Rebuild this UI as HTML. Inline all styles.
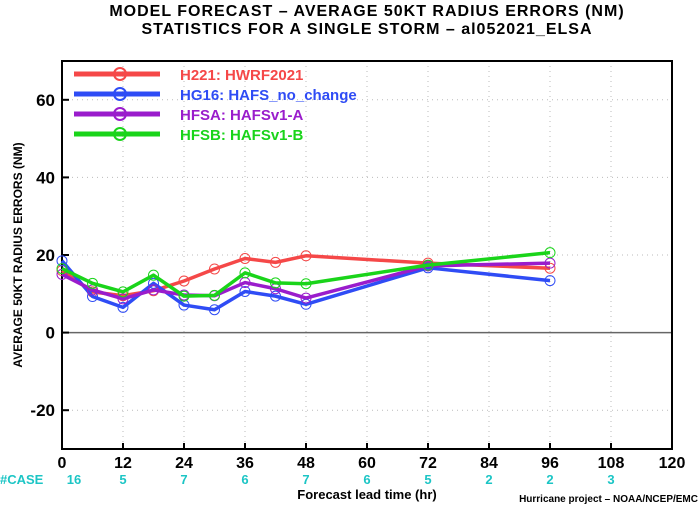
<!DOCTYPE html>
<html><head><meta charset="utf-8"><style>
body{margin:0;background:#fff;font-family:"Liberation Sans",sans-serif}
svg text{font-family:"Liberation Sans",sans-serif}
</style></head><body>
<svg id="chart" width="700" height="506" viewBox="0 0 700 506" xmlns="http://www.w3.org/2000/svg">
<text x="367" y="16" text-anchor="middle" font-size="16" font-weight="bold" letter-spacing="1">MODEL FORECAST – AVERAGE 50KT RADIUS ERRORS (NM)</text>
<text x="367" y="34" text-anchor="middle" font-size="16" font-weight="bold" letter-spacing="1">STATISTICS FOR A SINGLE STORM – al052021_ELSA</text>
<g id="grid"></g><g id="axes"></g><g id="series"></g><g id="legend"></g>
<text transform="translate(22,255) rotate(-90)" text-anchor="middle" font-size="12" font-weight="bold">AVERAGE 50KT RADIUS ERRORS (NM)</text>
<text x="367" y="499" text-anchor="middle" font-size="13" font-weight="bold">Forecast lead time (hr)</text>
<text x="698" y="502" text-anchor="end" font-size="10" font-weight="bold">Hurricane project – NOAA/NCEP/EMC</text>
<text x="0" y="484" font-size="13" font-weight="bold" fill="#1cc5c5">#CASE</text>
</svg>
<script>
const hours=[0,6,12,18,24,30,36,42,48,72,96];
const h221=[16,10.5,9.5,10.8,13.3,16.4,19.1,18.1,19.8,17.9,16.6];
const hg16=[18.5,9.3,6.5,12.7,7.1,5.9,10.6,9.4,7.3,16.7,13.4];
const hfsa=[15,11,8.7,11,9.7,9.5,12.9,11.3,8.9,17.2,17.9];
const hfsb=[16.5,12.7,10.5,14.8,9.4,9.6,15.4,12.8,12.6,17.4,20.6];
const seriesNames=["H221: HWRF2021","HG16: HAFS_no_change","HFSA: HAFSv1-A","HFSB: HAFSv1-B"];
const xTicks=[0,12,24,36,48,60,72,84,96,108,120];
const yTicks=[-20,0,20,40,60];
const caseHours=[0,12,24,36,48,60,72,84,96,108];
const caseCounts=[16,5,7,6,7,6,5,2,2,3];
const NS="http://www.w3.org/2000/svg";
const X0=62,X1=672,Y0=449,Y1=61,xmin=0,xmax=120,ymin=-30,ymax=70;
const xs=v=>X0+(v-xmin)/(xmax-xmin)*(X1-X0);
const ys=v=>Y0-(v-ymin)/(ymax-ymin)*(Y0-Y1);
function mk(tag,attrs,parent,txt){const e=document.createElementNS(NS,tag);for(const k in attrs)e.setAttribute(k,attrs[k]);if(txt!==undefined)e.textContent=txt;parent.appendChild(e);return e;}
const grid=document.getElementById('grid'),axes=document.getElementById('axes'),ser=document.getElementById('series'),leg=document.getElementById('legend');
xTicks.forEach(t=>{
 if(t>0&&t<120){const l=mk('line',{x1:xs(t),x2:xs(t),y1:Y1,y2:Y0,stroke:'#bbb','stroke-dasharray':'1 4'},grid);
 
 }
 const tk=mk('line',{x1:xs(t),x2:xs(t),y1:Y0,y2:Y0-6,stroke:'#000','stroke-width':2},axes);
 
 
 const tx=mk('text',{x:xs(t),y:Y0+19,'text-anchor':'middle','font-size':16,'font-weight':'bold'},axes,String(t));
 
 
});
yTicks.forEach(t=>{
 const l=mk('line',{x1:X0,x2:X1,y1:ys(t),y2:ys(t),stroke:t===0?'#666':'#bbb','stroke-dasharray':t===0?'none':'1 4','stroke-width':t===0?1.5:1},grid);
 
 
 const tk=mk('line',{x1:X0,x2:X0+7,y1:ys(t),y2:ys(t),stroke:'#000','stroke-width':2},axes);
 
 
 const tx=mk('text',{x:X0-7,y:ys(t)+6,'text-anchor':'end','font-size':17,'font-weight':'bold'},axes,String(t));
 
 
});
const frame=mk('rect',{x:X0,y:Y1,width:X1-X0,height:Y0-Y1,fill:'none',stroke:'#000','stroke-width':2},axes);


caseHours.forEach((h,i)=>{
 const t=mk('text',{x:xs(h)+(i===0?12:0),y:484,'text-anchor':'middle','font-size':13,'font-weight':'bold',fill:'#1cc5c5'},axes,String(caseCounts[i]));
 
 
});
const colors=['#f54848','#2f4cf5','#9a1ccc','#1ad41a'];
[h221,hg16,hfsa,hfsb].forEach((d,si)=>{
 const c=colors[si];
 const p=mk('polyline',{points:hours.map((h,i)=>xs(h)+','+ys(d[i])).join(' '),fill:'none',stroke:c,'stroke-width':3.5,'stroke-linejoin':'round'},ser);
 
 
 hours.forEach((h,i)=>{const m=mk('circle',{cx:xs(h),cy:ys(d[i]),r:5,fill:'none',stroke:c,'stroke-width':1},ser);
 
 });
 const ly=74+si*20;
 const ll=mk('line',{x1:74,x2:160,y1:ly,y2:ly,stroke:c,'stroke-width':5},leg);
 
 
 const lc=mk('circle',{cx:120,cy:ly,r:6,fill:'none',stroke:c,'stroke-width':2},leg);
 
 
 const lt=mk('text',{x:180,y:ly+6,'font-size':15,'font-weight':'bold',fill:c},leg,seriesNames[si]);
 
 
});
</script>
</body></html>
